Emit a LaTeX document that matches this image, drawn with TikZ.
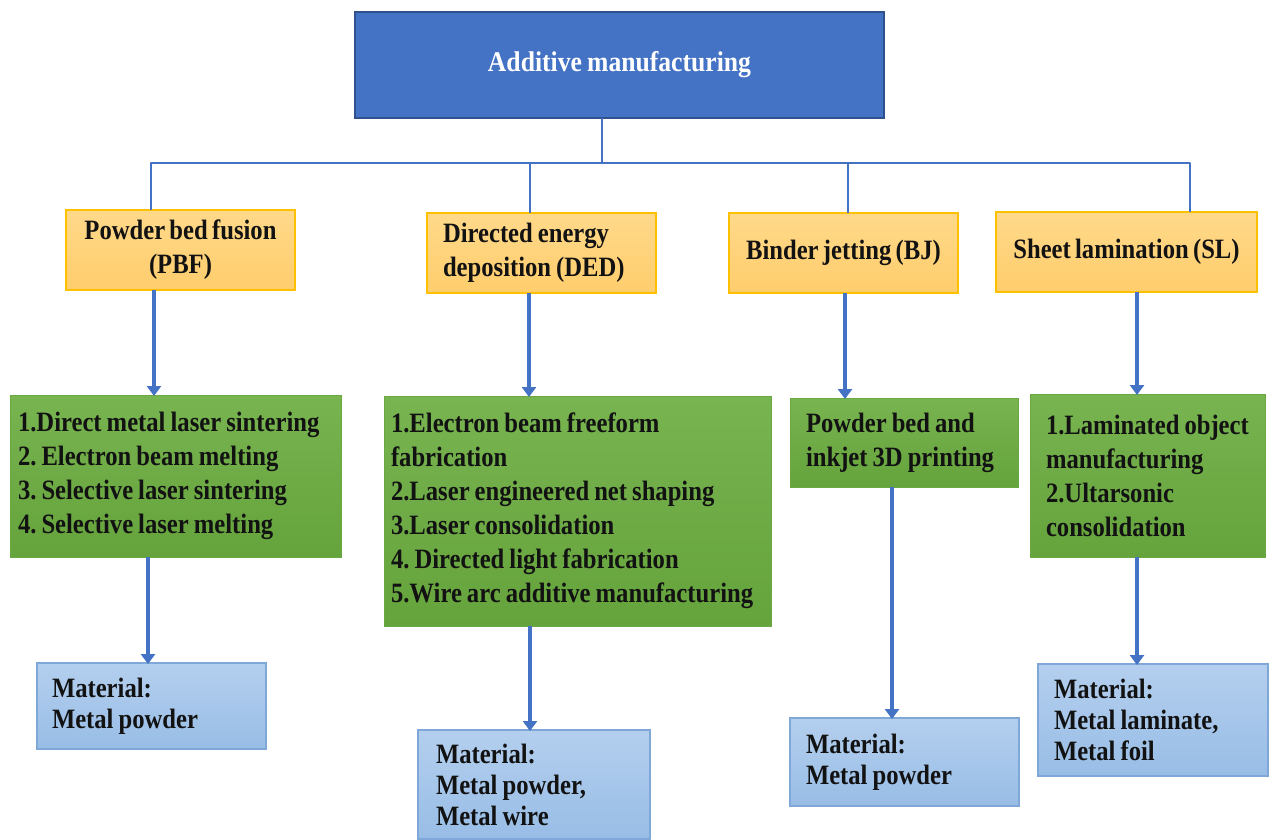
\documentclass[tikz,border=0pt]{standalone}
\usepackage{fontspec}
\setmainfont{Liberation Serif}[FakeStretch=0.88, WordSpace=0.7]
\newfontfamily\titlefont{Liberation Serif}[FakeStretch=0.9, WordSpace=0.8]
\usetikzlibrary{arrows.meta}
\definecolor{topblue}{HTML}{4472C4}
\definecolor{topedge}{HTML}{2F528F}
\definecolor{orgedge}{HTML}{FFC000}
\definecolor{orgtop}{HTML}{FFD98A}
\definecolor{orgbot}{HTML}{FFCD6C}
\definecolor{grntop}{HTML}{78B450}
\definecolor{grnbot}{HTML}{65A33C}
\definecolor{grnedge}{HTML}{6AA843}
\definecolor{mattop}{HTML}{B4CFEE}
\definecolor{matbot}{HTML}{98BDE6}
\definecolor{matedge}{HTML}{7FA8D8}
\definecolor{connblue}{HTML}{4472C4}
\definecolor{txt}{HTML}{121212}
\begin{document}
\begin{tikzpicture}[x=1pt,y=-1pt,
  every node/.style={font=\bfseries\fontsize{28}{34}\selectfont, text=txt, anchor=north west, outer sep=0pt},
  tight/.style={execute at begin node={\spaceskip=0.18em plus 0.05em\xspaceskip=0.18em plus 0.05em\relax}},
  topbox/.style={fill=topblue, draw=topedge, line width=1.5pt, text=white, align=center, font=\titlefont\bfseries\fontsize{28.5}{32}\selectfont},
  catbox/.style={top color=orgtop, bottom color=orgbot, draw=orgedge, line width=1.2pt, inner ysep=0pt},
  techbox/.style={tight, top color=grntop, bottom color=grnbot, draw=grnedge, line width=0.8pt, inner ysep=0pt},
  matbox/.style={tight, top color=mattop, bottom color=matbot, draw=matedge, line width=1.2pt, inner ysep=0pt, font=\bfseries\fontsize{28}{31}\selectfont},
  conn/.style={draw=connblue, line width=2.2pt},
  flow/.style={draw=connblue, line width=4.5pt, -{Triangle[width=14pt,length=10pt]}}
]
\path[use as bounding box, fill=white] (0,0) rectangle (1274,839);

% top
\node[topbox, minimum width=529pt, minimum height=106pt] (am) at (355,12) {Additive manufacturing};

% categories
\node[catbox, align=center, minimum width=229pt, minimum height=80pt] (pbf) at (66,210) {Powder bed fusion\\(PBF)};
\node[catbox, tight, inner xsep=16pt, text width=197pt, minimum height=80pt] (ded) at (427,213) {Directed energy\\deposition (DED)};
\node[catbox, align=center, minimum width=229pt, minimum height=80pt] (bj) at (729,213) {Binder jetting (BJ)};
\node[catbox, align=center, minimum width=261pt, minimum height=80pt] (sl) at (996,212) {Sheet lamination (SL)};

% techniques
\node[techbox, inner xsep=8pt, text width=315pt, minimum height=162pt] (t1) at (10,395) {1.Direct metal laser sintering\\2. Electron beam melting\\3. Selective laser sintering\\4. Selective laser melting};
\node[techbox, inner xsep=7pt, text width=373pt, minimum height=230pt] (t2) at (384,396) {1.Electron beam freeform\\fabrication\\2.Laser engineered net shaping\\3.Laser consolidation\\4. Directed light fabrication\\5.Wire arc additive manufacturing};
\node[techbox, inner xsep=16pt, text width=196pt, minimum height=89pt] (t3) at (790,398) {Powder bed and\\inkjet 3D printing};
\node[techbox, inner xsep=16pt, text width=203pt, minimum height=163pt] (t4) at (1030,394) {1.Laminated object\\manufacturing\\2.Ultarsonic\\consolidation};

% materials
\node[matbox, inner xsep=15pt, text width=199pt, minimum height=86pt] (m1) at (37,663) {Material:\\Metal powder};
\node[matbox, inner xsep=18pt, text width=196pt, minimum height=109pt] (m2) at (418,730) {Material:\\Metal powder,\\Metal wire};
\node[matbox, inner xsep=16pt, text width=197pt, minimum height=88pt] (m3) at (790,718) {Material:\\Metal powder};
\node[matbox, inner xsep=16pt, text width=198pt, minimum height=112pt] (m4) at (1038,664) {Material:\\Metal laminate,\\Metal foil};

% tree connectors
\coordinate (hub) at (602,163);
\coordinate (d1) at (151,163);
\coordinate (d2) at (530,163);
\coordinate (d3) at (848,163);
\coordinate (d4) at (1190,163);
\draw[conn] (am.south -| hub) -- (hub);
\draw[conn, line join=round] (d1 |- pbf.north) -- (d1) -- (d4) -- (d4 |- sl.north);
\draw[conn] (d2) -- (d2 |- ded.north);
\draw[conn] (d3) -- (d3 |- bj.north);

% flow arrows
\coordinate (a1) at (154,0);
\coordinate (a2) at (529,0);
\coordinate (a3) at (845,0);
\coordinate (a4) at (1137,0);
\draw[flow] (a1 |- pbf.south) -- ([yshift=-1pt]a1 |- t1.north);
\draw[flow] (a2 |- ded.south) -- ([yshift=-1pt]a2 |- t2.north);
\draw[flow] (a3 |- bj.south) -- ([yshift=-1pt]a3 |- t3.north);
\draw[flow] (a4 |- sl.south) -- ([yshift=-1pt]a4 |- t4.north);

\coordinate (b1) at (148,0);
\coordinate (b2) at (530,0);
\coordinate (b3) at (892,0);
\coordinate (b4) at (1137,0);
\draw[flow] (b1 |- t1.south) -- ([yshift=-1pt]b1 |- m1.north);
\draw[flow] (b2 |- t2.south) -- ([yshift=-1pt]b2 |- m2.north);
\draw[flow] (b3 |- t3.south) -- ([yshift=-1pt]b3 |- m3.north);
\draw[flow] (b4 |- t4.south) -- ([yshift=-1pt]b4 |- m4.north);
\end{tikzpicture}
\end{document}
